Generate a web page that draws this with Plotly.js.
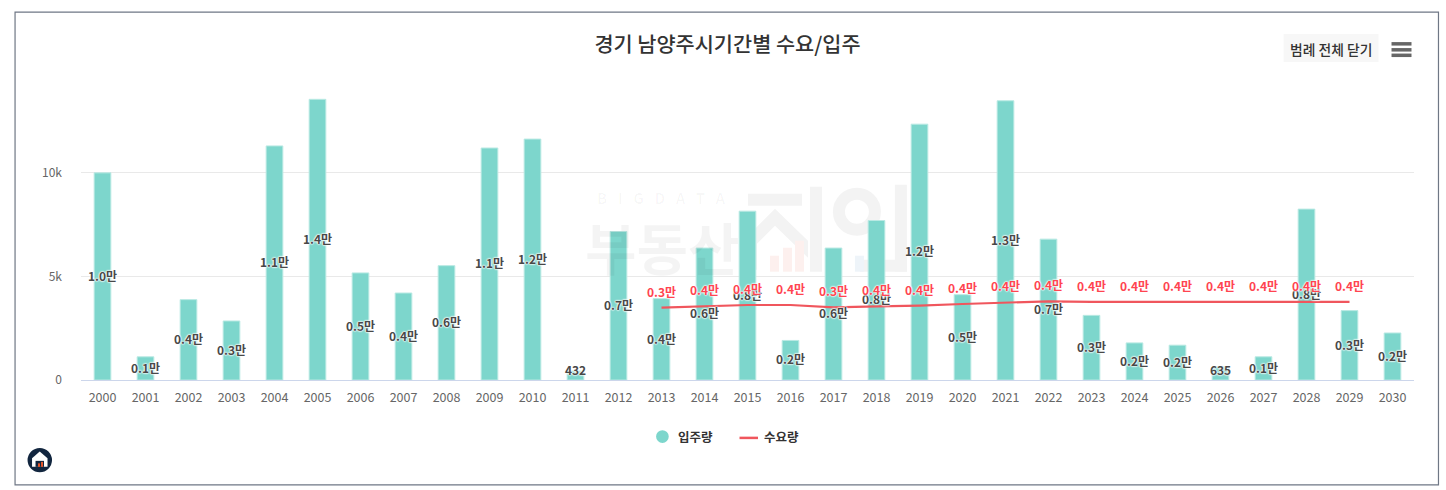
<!DOCTYPE html>
<html><head><meta charset="utf-8">
<script src="https://cdn.plot.ly/plotly-3.0.1.min.js"></script>
<style>html,body{margin:0;padding:0;background:#fff;overflow:hidden}#c{width:1446px;height:490px}</style>
</head><body><div id="c"></div>
<script>
const years = ['2000','2001','2002','2003','2004','2005','2006','2007','2008','2009','2010','2011','2012','2013','2014','2015','2016','2017','2018','2019','2020','2021','2022','2023','2024','2025','2026','2027','2028','2029','2030'];
const supply = [10000,1120,3880,2850,11300,13550,5170,4200,5520,11200,11630,432,7170,3930,6370,8150,1910,6370,7700,12350,4120,13480,6800,3120,1790,1680,635,1120,8250,3350,2270];
const supplyLabels = ['1.0만','0.1만','0.4만','0.3만','1.1만','1.4만','0.5만','0.4만','0.6만','1.1만','1.2만','432','0.7만','0.4만','0.6만','0.8만','0.2만','0.6만','0.8만','1.2만','0.5만','1.3만','0.7만','0.3만','0.2만','0.2만','635','0.1만','0.8만','0.3만','0.2만'];
const demandYears = ['2013','2014','2015','2016','2017','2018','2019','2020','2021','2022','2023','2024','2025','2026','2027','2028','2029'];
const demand = [3490,3560,3620,3620,3510,3550,3590,3670,3750,3800,3770,3770,3770,3770,3770,3770,3770];
const demandLabels = ['0.3만','0.4만','0.4만','0.4만','0.3만','0.4만','0.4만','0.4만','0.4만','0.4만','0.4만','0.4만','0.4만','0.4만','0.4만','0.4만','0.4만'];
const tickValues = [0,5000,10000];
const tickLabels = ['0','5k','10k'];
const legendNames = ['입주량','수요량'];

const W = 1446, H = 490, L = 80.5, R = 31.5, T = 90, B = 109.5;
const PW = W - L - R, PH = H - T - B;
const FONT = '"Noto Sans CJK KR","Noto Sans",sans-serif';
const HALO = '0 0 2px #fff,0 0 2px #fff,0 0 2px #fff,0 0 1px #fff';
const TEAL = '#7dd6cc', RED = '#f0565d';
const WM = '#f3f3f3', WMA = 'rgba(0,0,0,0.045)';
const px = x => (x - L) / PW, py = y => 1 - (y - T) / PH;
const rect = (x0,y0,x1,y1,extra) => Object.assign({type:'rect',xref:'paper',yref:'paper',x0:px(x0),x1:px(x1),y0:py(y0),y1:py(y1),line:{width:0}},extra);
const path = (d,fill,layer) => ({type:'path',layer:layer||'above',xref:'paper',yref:'paper',path:d.replace(/(-?\d+\.?\d*),(-?\d+\.?\d*)/g,(m,a,b)=>px(+a)+','+py(+b)),fillcolor:fill,line:{width:0}});
const note = (x,y,text,font,anchor) => ({xref:'paper',yref:'paper',x:px(x),y:py(y),xanchor:anchor||'center',yanchor:'middle',showarrow:false,text:text,font:Object.assign({family:FONT},font)});

const traces = [
  {type:'bar',x:years,y:supply,name:legendNames[0],width:0.388,marker:{color:TEAL,line:{color:'#b9e9e3',width:1}},showlegend:false,hoverinfo:'x+y'},
  {type:'scatter',mode:'lines',x:demandYears,y:demand,name:legendNames[1],line:{color:RED,width:2.2},showlegend:false},
  {type:'scatter',mode:'text',x:years,y:supply.map(v=>Math.max(v/2,470)-60),text:supplyLabels,textposition:'middle center',
   textfont:{family:FONT,size:12,color:'#484848',weight:700,shadow:HALO},showlegend:false,hoverinfo:'skip'},
  {type:'scatter',mode:'text',x:demandYears,y:demand.map(v=>v+680),text:demandLabels,textposition:'middle center',
   textfont:{family:FONT,size:12,color:'#ff4450',weight:700,shadow:HALO},showlegend:false,hoverinfo:'skip'}
];

const layout = {
  width:W,height:H,paper_bgcolor:'#fff',plot_bgcolor:'rgba(0,0,0,0)',
  margin:{l:L,r:R,t:T,b:B,pad:0},
  font:{family:FONT,color:'#666',size:12},
  showlegend:false,
  title:{text:'경기 남양주시기간별 수요/입주',x:727.5/W,xanchor:'center',xref:'container',y:1-45/H,yanchor:'middle',yref:'container',
         font:{family:FONT,size:20.8,color:'#333',weight:500}},
  xaxis:{type:'category',categoryorder:'array',categoryarray:years,range:[-0.5,30.5],showgrid:false,zeroline:false,
         showline:true,linecolor:'#ccd6eb',linewidth:1,ticks:'',tickfont:{family:FONT,size:12.5,color:'#666'},tickangle:0,ticklabelstandoff:6},
  yaxis:{range:[0,14000],tickmode:'array',tickvals:tickValues,ticktext:tickLabels,showgrid:true,gridcolor:'#e9e9e9',gridwidth:1,zeroline:false,
         showline:false,ticks:'',tickfont:{family:FONT,size:12,color:'#666'},ticklabelstandoff:18},
  shapes:[
    rect(14.5,12,1439,485.5,{line:{color:'#6f7785',width:1.2},fillcolor:'rgba(0,0,0,0)'}),
    rect(1284,34,1379,62,{fillcolor:'#f7f7f7'}),
    rect(1392,42,1412,45.5,{fillcolor:'#666'}),
    rect(1392,48,1412,51.5,{fillcolor:'#666'}),
    rect(1392,53.5,1412,57,{fillcolor:'#666'}),
    // legend keys
    {type:'circle',xref:'paper',yref:'paper',x0:px(656),x1:px(668.7),y0:py(443.5),y1:py(430.8),fillcolor:TEAL,line:{width:0}},
    {type:'line',xref:'paper',yref:'paper',x0:px(739.5),x1:px(758),y0:py(438.5),y1:py(438.5),line:{color:RED,width:2.5}},
    // logo badge
    {type:'circle',xref:'paper',yref:'paper',x0:px(27),x1:px(51.5),y0:py(473),y1:py(448.5),fillcolor:'#12263f',line:{width:0}},
    path('M 39.2,452 L 47,459 L 47,467.5 L 31.5,467.5 L 31.5,459 Z','#fff'),
    path('M 35,461.5 L 43.5,461.5 L 43.5,467.5 L 35,467.5 Z','#12263f'),
    rect(37.5,464,39.5,467.5,{fillcolor:'#e8562a'}),
    rect(40.5,462.5,42.5,467.5,{fillcolor:'#e8562a'}),
    // watermark logo, below the bars
    rect(748,194,802,206,{fillcolor:WM,layer:'below'}),
    path('M 775,209 L 808,241 L 808,258 L 775,226 L 757,244 L 757,270 L 748,270 L 748,236 Z',WM,'below'),
    rect(810,187,822,272,{fillcolor:WM,layer:'below'}),
    {type:'circle',layer:'below',xref:'paper',yref:'paper',x0:px(839),x1:px(875),y0:py(230),y1:py(194),fillcolor:'rgba(0,0,0,0)',line:{color:WM,width:12}},
    rect(895,185,907,272,{fillcolor:WM,layer:'below'}),
    rect(860,260,907,272,{fillcolor:WM,layer:'below'}),
    rect(770,256,779,272,{fillcolor:'#fdf0ee',layer:'below'}),
    rect(783,248,792,272,{fillcolor:'#fdf0ee',layer:'below'}),
    rect(795,241,804,272,{fillcolor:'#fdf0ee',layer:'below'}),
    rect(855,256,864,272,{fillcolor:'#eef4f9',layer:'below'})
  ],
  annotations:[
    note(1331.5,49,'범례 전체 닫기',{size:13.8,color:'#333',weight:500}),
    note(676,437.5,legendNames[0],{size:12.5,color:'#333',weight:700},'left'),
    note(762,437.5,legendNames[1],{size:12.5,color:'#333',weight:700},'left'),
    note(661,198,'B\u2002\u2009I\u2002\u2009G\u2002\u2009D\u2002\u2009A\u2002\u2009T\u2002\u2009A',{size:15,color:'rgba(0,0,0,0.03)',weight:700}),
    note(662,246,'부동산',{size:56,color:WMA,weight:700})
  ]
};
Plotly.newPlot('c',traces,layout,{displayModeBar:false,responsive:false});
</script></body></html>
